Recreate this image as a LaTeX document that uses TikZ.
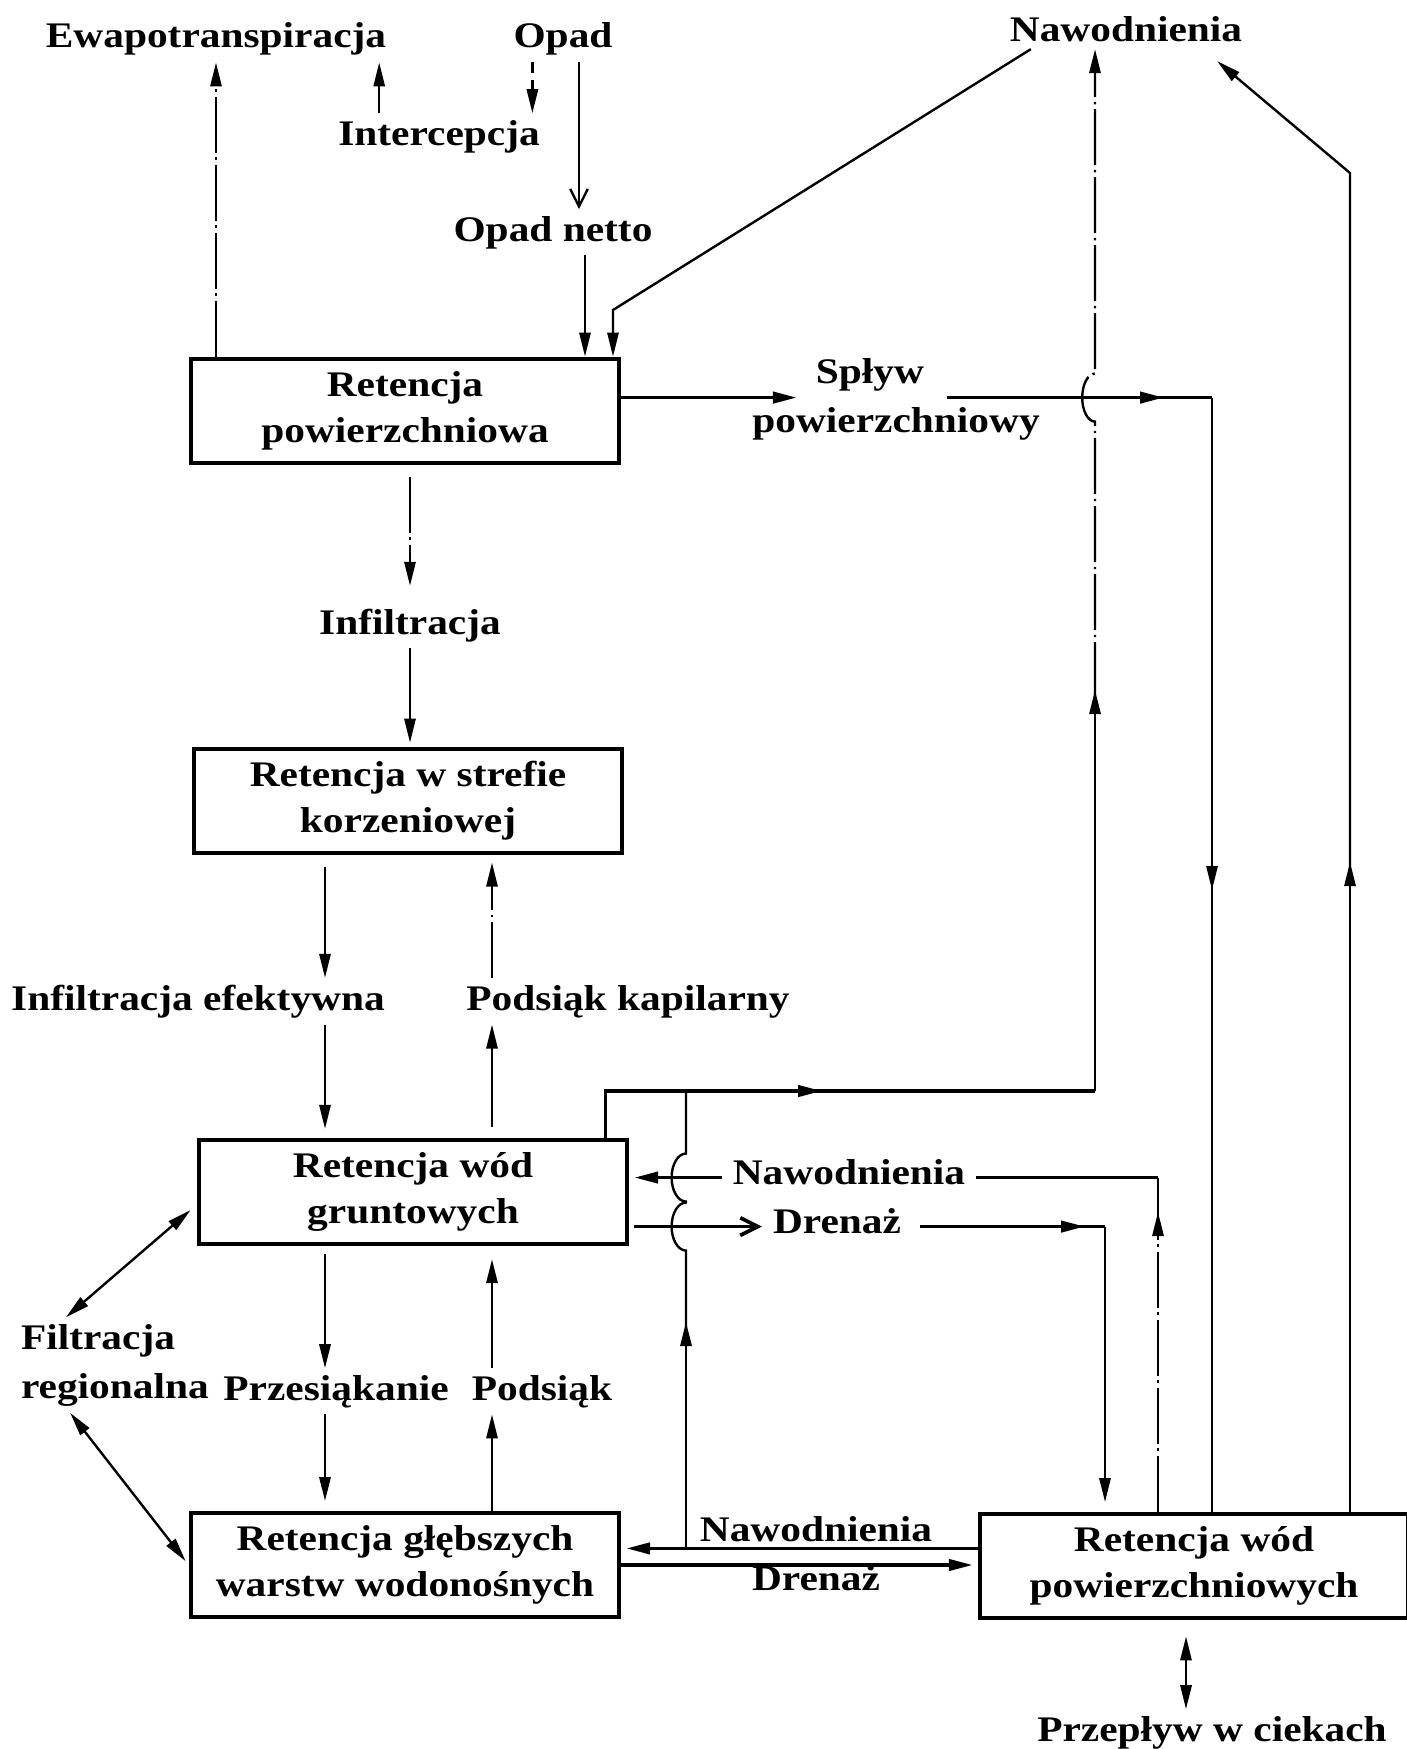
\documentclass[tikz,border=0pt]{standalone}
\usepackage{fontspec}
\setmainfont{Liberation Serif}[FakeStretch=1.15]
\usepackage{tikz}
\usetikzlibrary{arrows.meta}

\tikzset{
  >={Triangle[length=3mm,width=1.4mm]},
  retbox/.style={draw,line width=1.4pt,minimum width=53.6mm,minimum height=13.1mm,align=center,inner sep=1pt},
  lbl/.style={anchor=base,inner xsep=3.5pt,inner ysep=2pt},
  dashdotline/.style={dash pattern=on 7mm off 0.6mm on 0.3mm off 0.6mm},
  shortdash/.style={dash pattern=on 1.3mm off 0.9mm},
  flow/.style={line width=1.3pt},
  barb/.style={-{Straight Barb[length=2.2mm,width=2.2mm]}},
}

\begin{document}
\begin{tikzpicture}[x=0.125mm,y=-0.125mm,line width=0.85pt,
    font=\bfseries\fontsize{12.8}{16.3}\selectfont]
    \useasboundingbox (0,0) rectangle (1407,1749);

    % Retention boxes
    \node (ret_surface) [retbox] at (405,411) {Retencja\\powierzchniowa};
    \node (ret_root) [retbox] at (408,801) {Retencja w strefie\\korzeniowej};
    \node (ret_ground) [retbox] at (413,1192) {Retencja wód\\gruntowych};
    \node (ret_deep) [retbox] at (405,1565) {Retencja głębszych\\warstw wodonośnych};
    \node (ret_river) [retbox] at (1194,1566) {Retencja wód\\powierzchniowych};

    % Fluxes
    \node (evapo) [lbl] at (216,48) {Ewapotranspiracja};
    \node (precip) [lbl] at (563,48) {Opad};
    \node (intercept) [lbl] at (439,145) {Intercepcja};
    \node (net_precip) [lbl] at (553,241) {Opad netto};
    \node (irrig_top) [lbl] at (1126,42) {Nawodnienia};
    \node (runoff1) [lbl] at (870,383) {Spływ};
    \node (runoff2) [lbl] at (896,432) {powierzchniowy};
    \node (infil) [lbl] at (410,634) {Infiltracja};
    \node (infil_eff) [lbl] at (198,1010) {Infiltracja efektywna};
    \node (cap_rise) [lbl] at (628,1010) {Podsiąk kapilarny};
    \node (filtr1) [lbl,anchor=base west] at (10,1349) {Filtracja};
    \node (filtr2) [lbl,anchor=base west] at (10,1398) {regionalna};
    \node (seep) [lbl] at (336,1400) {Przesiąkanie};
    \node (upflow) [lbl] at (542,1400) {Podsiąk};
    \node (irrig_mid) [lbl] at (849,1184) {Nawodnienia};
    \node (drain_mid) [lbl] at (837,1233) {Drenaż};
    \node (irrig_low) [lbl] at (816,1541) {Nawodnienia};
    \node (drain_low) [lbl] at (816,1590) {Drenaż};
    \node (streamflow) [lbl] at (1212,1741) {Przepływ w ciekach};

    % Bends and columns of the connectors
    \coordinate (irrig_bend) at (613,310);
    \coordinate (runoff_mid) at (1212,890);
    \coordinate (top_row_mid) at (822,1091);
    \coordinate (v1_low) at (1095,1091);
    \coordinate (v1_mid) at (1095,690);
    \coordinate (right_mid) at (1350,862);
    \coordinate (right_bend) at (1350,173);
    \coordinate (irrig_col) at (1158,1212);
    \coordinate (drain_col) at (1105,0);
    \coordinate (v2_col) at (686,1322);
    \coordinate (col_left) at (325,0);
    \coordinate (col_right) at (492,0);
    \coordinate (irrig_line) at ([yshift=2.2mm]ret_river.west);

    % Top
    \draw[dashdotline,->] (evapo.south |- ret_surface.north) -- (evapo.south);
    \draw[->] ([xshift=6.5mm]intercept.north west) -- ([xshift=6.5mm]intercept.north west |- evapo.south);
    \draw[shortdash,->] ([xshift=-2.3mm]intercept.north east |- precip.south) -- ([xshift=-2.3mm]intercept.north east);
    \draw[barb] ([xshift=2mm]precip.south) -- ([xshift=2mm]precip.south |- net_precip.north);
    \draw[->] ([xshift=4mm]net_precip.south) -- ([xshift=4mm]net_precip.south |- ret_surface.north);
    \draw[->] ([xshift=4mm]irrig_top.south west) -- (irrig_bend) -- (irrig_bend |- ret_surface.north);

    % Surface runoff
    \draw[flow,->] (ret_surface.east |- runoff1.south) -- ([xshift=-1mm]runoff1.south west);
    \draw[flow,->] ([xshift=1.5mm]runoff1.south east) -- ([xshift=-6mm]runoff_mid |- runoff1.south);
    \draw[flow] ([xshift=-7mm]runoff_mid |- runoff1.south) -- (runoff_mid |- runoff1.south);
    \draw[->] (runoff_mid |- runoff1.south) -- (runoff_mid);
    \draw ([yshift=1mm]runoff_mid) -- (runoff_mid |- ret_river.north);

    % Vertical column
    \draw[dashdotline,->,shorten >=2mm] ([yshift=-1.4mm]ret_surface.south -| infil) -- (infil.north);
    \draw[->,shorten >=0.5mm] (infil.south) -- (infil.south |- ret_root.north);
    \draw[->,shorten <=1.4mm] (col_left |- ret_root.south) -- (col_left |- infil_eff.north);
    \draw[->,shorten >=1.1mm] (col_left |- infil_eff.south) -- (col_left |- ret_ground.north);
    \draw[->,shorten <=1.3mm] (col_right |- ret_ground.north) -- (col_right |- cap_rise.south);
    \draw[dashdotline,->,shorten >=0.9mm] (col_right |- cap_rise.north) -- (col_right |- ret_root.south);
    \draw[->,shorten <=1mm] (col_left |- ret_ground.south) -- (col_left |- seep.north);
    \draw[->,shorten >=1.2mm] (col_left |- seep.south) -- (col_left |- ret_deep.north);
    \draw[->] (col_right |- ret_deep.north) -- (col_right |- upflow.south);
    \draw[->,shorten >=1.6mm] (col_right |- upflow.north) -- (col_right |- ret_ground.south);

    % Regional filtration
    \draw[<->,shorten >=1mm] ([xshift=-4mm]filtr1.north) -- ([yshift=-1.6mm]ret_ground.west);
    \draw[<->,shorten >=0.6mm] ([xshift=-5.6mm]filtr2.south) -- (ret_deep.west);

    % From groundwater up to irrigation
    \draw[flow,->] ([xshift=-3mm]ret_ground.north east) |- (top_row_mid);
    \draw[flow] ([xshift=-1mm]top_row_mid) -- (v1_low);
    \draw[->] (v1_low) -- (v1_mid);
    \draw[dashdotline,->] ([yshift=-1mm]v1_mid) -- ([yshift=-3mm]v1_mid |- runoff1.south)
        arc[start angle=270,end angle=90,x radius=1.6mm,y radius=3mm]
        -- (v1_mid |- irrig_top.south);

    % From surface water up to irrigation
    \draw[->] (right_mid |- ret_river.north) -- (right_mid);
    \draw[->] ([yshift=-1mm]right_mid) -- (right_bend) -- ([xshift=-4.5mm,yshift=-1.5mm]irrig_top.south east);

    % Irrigation and drainage of groundwater
    \draw[dashdotline,->] (irrig_col |- ret_river.north) -- (irrig_col);
    \draw ([yshift=-1mm]irrig_col) -- (irrig_col |- irrig_mid.mid east);
    \draw[flow] (irrig_col |- irrig_mid.mid east) -- (irrig_mid.mid east);
    \draw[flow,->,shorten >=0.6mm] (irrig_mid.mid west) -- (irrig_mid.mid west -| ret_ground.east);
    \draw[flow,barb,shorten <=0.6mm] (ret_ground.east |- drain_mid.mid west) -- (drain_mid.mid west);
    \draw[flow,->] ([xshift=1mm]drain_mid.mid east) -- ([xshift=-2.5mm]drain_col |- drain_mid.mid east);
    \draw[flow] ([xshift=-3.3mm]drain_col |- drain_mid.mid east) -- (drain_col |- drain_mid.mid east);
    \draw[->,shorten >=1.2mm] (drain_col |- drain_mid.mid east) -- (drain_col |- ret_river.north);

    % Deep aquifers and surface water
    \draw[flow,->,shorten >=0.6mm] (irrig_line) -- (irrig_line -| ret_deep.east);
    \draw[flow,->,shorten >=0.6mm] (ret_deep.east) -- (ret_deep.east -| ret_river.west);
    \draw[->] (v2_col |- irrig_line) -- (v2_col);
    \draw ([yshift=-1mm]v2_col) -- ([yshift=-3mm]v2_col |- drain_mid.mid west)
        arc[start angle=270,end angle=90,x radius=1.8mm,y radius=3mm]
        -- ([yshift=-3mm]v2_col |- irrig_mid.mid west)
        arc[start angle=270,end angle=90,x radius=1.8mm,y radius=3mm]
        -- (v2_col |- top_row_mid);

    % Streamflow
    \draw[dashdotline,<->,shorten <=2mm] ([xshift=-1mm]ret_river.south) -- ([xshift=-1mm]ret_river.south |- streamflow.north);
\end{tikzpicture}
\end{document}
